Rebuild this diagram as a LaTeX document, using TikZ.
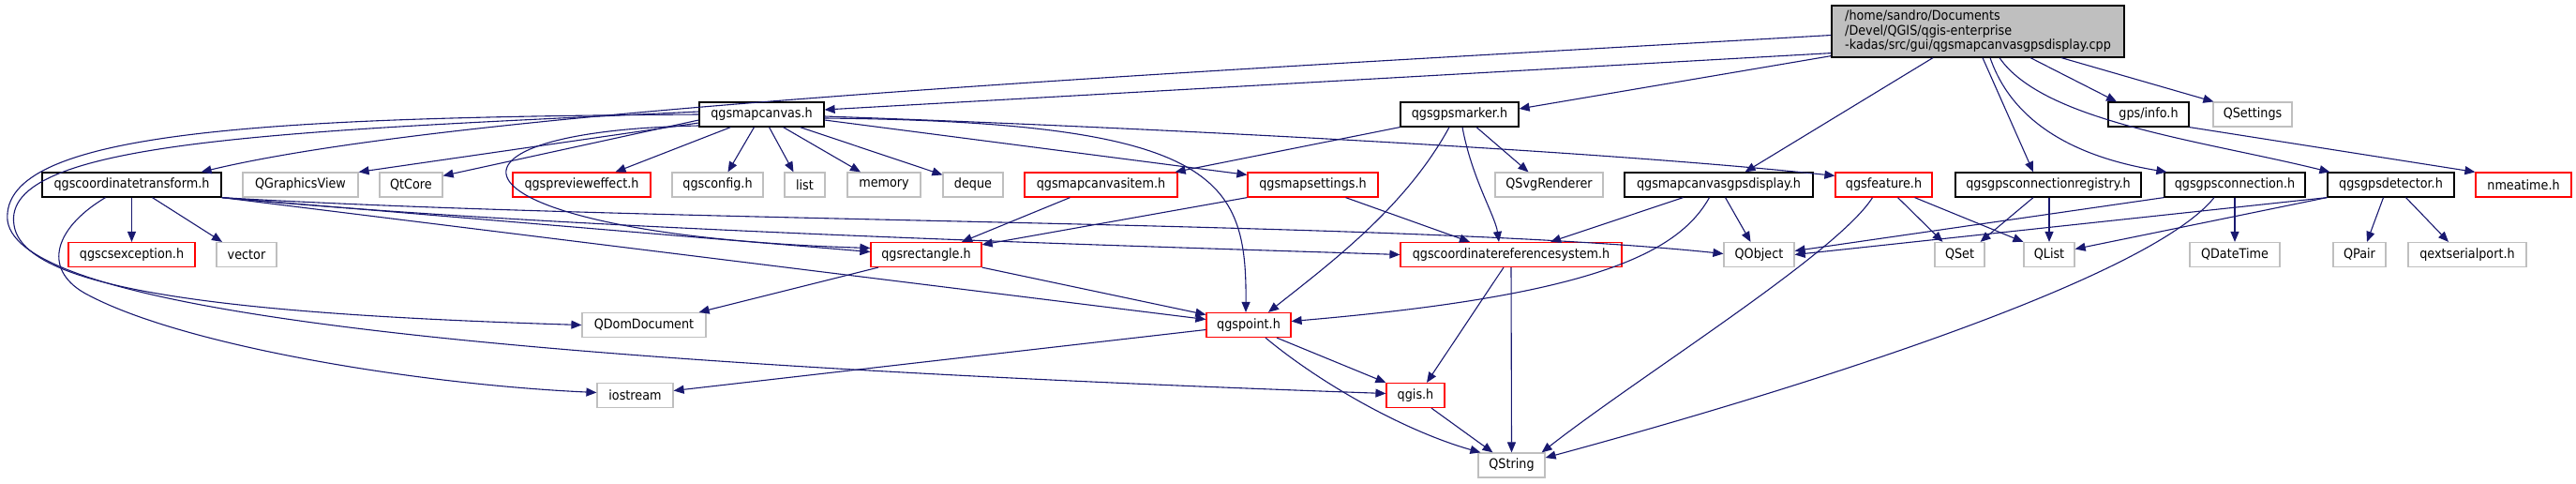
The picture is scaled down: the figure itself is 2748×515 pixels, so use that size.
\documentclass[tikz,border=0pt]{standalone}
\usepackage{fontspec}
\setmainfont{DejaVu Sans}[FakeStretch=0.9]
\usepackage{tikz}
\usetikzlibrary{arrows.meta}
\definecolor{DoxEdge}{HTML}{191970}
\definecolor{DoxRed}{HTML}{FF0000}
\definecolor{DoxGray}{HTML}{BFBFBF}

\begin{document}
\begin{tikzpicture}[>={Triangle[length=11pt,width=9pt]},x=1pt,y=-1pt]
  \tikzstyle{hdr}=[draw=black,fill=white,line width=1.2pt,minimum height=26pt,
    inner xsep=0pt,inner ysep=0pt,font=\fontsize{14.2}{15.5}\selectfont]
  \tikzstyle{redhdr}=[hdr,draw=DoxRed]
  \tikzstyle{syshdr}=[hdr,draw=DoxGray]
  \tikzstyle{dep}=[->,DoxEdge,line width=1.1pt]
  \useasboundingbox (0,0) rectangle (2748,515);
  \node[hdr,fill=DoxGray,minimum width=312pt,minimum height=55pt,align=left] (root) at (2110,33.5)
    {/home/sandro/Documents\\/Devel/QGIS/qgis-enterprise\\-kadas/src/gui/qgsmapcanvasgpsdisplay.cpp};
  \node[hdr,minimum width=133pt] (mapcanvas) at (812.5,122) {qgsmapcanvas.h};
  \node[hdr,minimum width=126pt] (gpsmarker) at (1557,122) {qgsgpsmarker.h};
  \node[hdr,minimum width=86pt] (gpsinfo) at (2292,122) {gps/info.h};
  \node[syshdr,minimum width=84pt] (qsettings) at (2403,122) {QSettings};
  \node[hdr,minimum width=191pt] (coordtransform) at (140.5,197) {qgscoordinatetransform.h};
  \node[syshdr,minimum width=123pt] (graphicsview) at (320.5,197) {QGraphicsView};
  \node[syshdr,minimum width=67pt] (qtcore) at (438.5,197) {QtCore};
  \node[redhdr,minimum width=147pt] (previeweffect) at (620.5,197) {qgsprevieweffect.h};
  \node[syshdr,minimum width=97pt] (qgsconfig) at (765.5,197) {qgsconfig.h};
  \node[syshdr,minimum width=43pt] (list) at (858.5,197) {list};
  \node[syshdr,minimum width=78pt] (memory) at (943,197) {memory};
  \node[syshdr,minimum width=64pt] (deque) at (1038,197) {deque};
  \node[redhdr,minimum width=163pt] (mapcanvasitem) at (1174.5,197) {qgsmapcanvasitem.h};
  \node[redhdr,minimum width=139pt] (mapsettings) at (1400.5,197) {qgsmapsettings.h};
  \node[syshdr,minimum width=115pt] (svgrenderer) at (1652.5,197) {QSvgRenderer};
  \node[hdr,minimum width=201pt] (display) at (1833.5,197) {qgsmapcanvasgpsdisplay.h};
  \node[redhdr,minimum width=103pt] (feature) at (2009.5,197) {qgsfeature.h};
  \node[hdr,minimum width=198pt] (gpsregistry) at (2185,197) {qgsgpsconnectionregistry.h};
  \node[hdr,minimum width=150pt] (gpsconnection) at (2384,197) {qgsgpsconnection.h};
  \node[hdr,minimum width=135pt] (gpsdetector) at (2550.5,197) {qgsgpsdetector.h};
  \node[redhdr,minimum width=102pt] (nmeatime) at (2692,197) {nmeatime.h};
  \node[redhdr,minimum width=135pt] (csexception) at (140.5,271.5) {qgscsexception.h};
  \node[syshdr,minimum width=64pt] (vector) at (263,271.5) {vector};
  \node[redhdr,minimum width=118pt] (rectangle) at (988,271.5) {qgsrectangle.h};
  \node[redhdr,minimum width=236pt] (crs) at (1612,271.5) {qgscoordinatereferencesystem.h};
  \node[syshdr,minimum width=75pt] (qobject) at (1876.5,271.5) {QObject};
  \node[syshdr,minimum width=53pt] (qset) at (2090.5,271.5) {QSet};
  \node[syshdr,minimum width=54pt] (qlist) at (2186,271.5) {QList};
  \node[syshdr,minimum width=96pt] (qdatetime) at (2384,271.5) {QDateTime};
  \node[syshdr,minimum width=56pt] (qpair) at (2517,271.5) {QPair};
  \node[syshdr,minimum width=126pt] (qextserialport) at (2632,271.5) {qextserialport.h};
  \node[syshdr,minimum width=132pt] (qdomdocument) at (687,346.5) {QDomDocument};
  \node[redhdr,minimum width=90pt] (qgspoint) at (1332,346.5) {qgspoint.h};
  \node[syshdr,minimum width=81pt] (iostream) at (677.5,421.5) {iostream};
  \node[redhdr,minimum width=62pt] (qgis) at (1510,421.5) {qgis.h};
  \node[syshdr,minimum width=71pt] (qstring) at (1612.5,496) {QString};

  \draw[dep] ([yshift=-4pt]root.west) .. controls (1300,75) and (500,115) .. ([xshift=-22pt]coordtransform.north east);
  \draw[dep] ([yshift=5pt]root.south west) -- ([yshift=5pt]mapcanvas.east);
  \draw[dep] ([yshift=2pt]root.south west) -- ([yshift=6pt]gpsmarker.east);
  \draw[dep] ([xshift=-48pt]root.south) -- ([xshift=28pt]display.north);
  \draw[dep] ([xshift=5pt]root.south) -- ([xshift=-16pt]gpsregistry.north);
  \draw[dep] ([xshift=13pt]root.south) .. controls (2150,140) and (2230,170) .. ([xshift=3pt]gpsconnection.north west);
  \draw[dep] ([xshift=23pt]root.south) .. controls (2180,130) and (2350,150) .. ([xshift=3pt]gpsdetector.north west);
  \draw[dep] ([xshift=56pt]root.south) -- ([xshift=-34pt]gpsinfo.north);
  \draw[dep] ([xshift=89pt]root.south) -- ([xshift=1pt]qsettings.north west);
  \draw[dep] (gpsinfo.south east) -- (nmeatime.north west);

  \draw[dep] ([yshift=3pt]mapcanvas.west) .. controls (300,140) and (0,150) .. (15,240) .. controls (25,310) and (250,335) .. (qdomdocument.west);
  \draw[dep] (mapcanvas.west) .. controls (280,125) and (0,140) .. (8,235) .. controls (20,330) and (500,385) .. ([yshift=2pt]qgis.west);
  \draw[dep] ([yshift=-9pt]mapcanvas.west) -- (graphicsview.north east);
  \draw[dep] ([yshift=-6pt]mapcanvas.west) -- ([yshift=-4pt]qtcore.north east);
  \draw[dep] ([yshift=-12pt]mapcanvas.west) .. controls (430,140) and (470,250) .. ([yshift=7pt]rectangle.west);
  \draw[dep] ([xshift=-33pt]mapcanvas.south) -- ([xshift=36pt]previeweffect.north);
  \draw[dep] ([xshift=-8pt]mapcanvas.south) -- ([xshift=11pt]qgsconfig.north);
  \draw[dep] ([xshift=8pt]mapcanvas.south) -- ([xshift=-12pt]list.north);
  \draw[dep] ([xshift=23pt]mapcanvas.south) -- ([xshift=-25pt]memory.north);
  \draw[dep] ([xshift=41pt]mapcanvas.south) -- ([yshift=-3pt]deque.north west);
  \draw[dep] ([yshift=-6pt]mapcanvas.east) -- ([yshift=-3pt]mapsettings.north west);
  \draw[dep] ([yshift=-2pt]mapcanvas.east) .. controls (1200,135) and (1700,160) .. ([yshift=-4pt]feature.north west);
  \draw[dep] ([yshift=-4pt]mapcanvas.east) .. controls (1300,130) and (1330,190) .. ([xshift=-3pt]qgspoint.north);

  \draw[dep] (coordtransform.south) -- (csexception.north);
  \draw[dep] ([xshift=22pt]coordtransform.south) -- ([xshift=-26pt]vector.north);
  \draw[dep] ([xshift=-28pt]coordtransform.south) .. controls (55,245) and (45,290) .. (95,315) .. controls (200,370) and (450,410) .. ([yshift=3pt]iostream.west);
  \draw[dep] (coordtransform.south east) -- ([yshift=3pt]rectangle.west);
  \draw[dep] (coordtransform.south east) .. controls (600,245) and (1200,262) .. (crs.west);
  \draw[dep] (coordtransform.south east) .. controls (700,238) and (1500,235) .. ([yshift=1pt]qobject.west);
  \draw[dep] (coordtransform.south east) -- ([yshift=6pt]qgspoint.west);

  \draw[dep] ([xshift=-33pt]mapcanvasitem.south) -- ([xshift=38pt]rectangle.north);
  \draw[dep] (mapsettings.south west) -- ([yshift=-3pt]rectangle.north east);
  \draw[dep] ([xshift=35pt]mapsettings.south) -- ([xshift=-44pt]crs.north);
  \draw[dep] (gpsmarker.south west) -- ([xshift=-3pt]mapcanvasitem.north east);
  \draw[dep] ([xshift=-11pt]gpsmarker.south) .. controls (1500,220) and (1420,280) .. ([xshift=21pt]qgspoint.north);
  \draw[dep] ([xshift=3pt]gpsmarker.south) .. controls (1570,190) and (1595,230) .. ([xshift=-13pt]crs.north);
  \draw[dep] ([xshift=18pt]gpsmarker.south) -- ([xshift=-22pt]svgrenderer.north);
  \draw[dep] ([xshift=-38pt]display.south) -- ([xshift=42pt]crs.north);
  \draw[dep] ([xshift=7pt]display.south) -- ([xshift=-9pt]qobject.north);
  \draw[dep] ([xshift=-10pt]display.south) .. controls (1790,270) and (1700,315) .. ([yshift=4pt]qgspoint.east);
  \draw[dep] ([xshift=-12pt]feature.south) .. controls (1960,270) and (1750,400) .. ([xshift=-4pt]qstring.north east);
  \draw[dep] ([xshift=15pt]feature.south) -- ([xshift=-18pt]qset.north);
  \draw[dep] ([xshift=33pt]feature.south) -- (qlist.north west);
  \draw[dep] ([xshift=-16pt]gpsregistry.south) -- ([xshift=22pt]qset.north);
  \draw[dep] ([xshift=1pt]gpsregistry.south) -- (qlist.north);
  \draw[dep] (gpsconnection.south west) -- ([yshift=4pt]qobject.east);
  \draw[dep] (gpsconnection.south) -- (qdatetime.north);
  \draw[dep] ([xshift=-22pt]gpsconnection.south) .. controls (2290,300) and (1900,420) .. ([yshift=8pt]qstring.east);
  \draw[dep] (gpsdetector.south west) -- (qobject.east);
  \draw[dep] (gpsdetector.south west) -- ([yshift=6pt]qlist.east);
  \draw[dep] ([xshift=-8pt]gpsdetector.south) -- ([xshift=8pt]qpair.north);
  \draw[dep] ([xshift=16pt]gpsdetector.south) -- ([xshift=-20pt]qextserialport.north);

  \draw[dep] ([xshift=-51pt]rectangle.south) -- ([xshift=-8pt]qdomdocument.north east);
  \draw[dep] (rectangle.south east) -- ([yshift=11pt]qgspoint.west);
  \draw[dep] ([yshift=-5pt]qgspoint.west) -- ([yshift=5pt]iostream.east);
  \draw[dep] ([xshift=30pt]qgspoint.south) -- (qgis.north west);
  \draw[dep] ([xshift=18pt]qgspoint.south) .. controls (1410,410) and (1500,460) .. ([xshift=3pt]qstring.north west);
  \draw[dep] ([xshift=-8pt]crs.south) -- ([xshift=12pt]qgis.north);
  \draw[dep] (crs.south) -- (qstring.north);
  \draw[dep] ([xshift=17pt]qgis.south) -- ([xshift=-20pt]qstring.north);
\end{tikzpicture}
\end{document}
